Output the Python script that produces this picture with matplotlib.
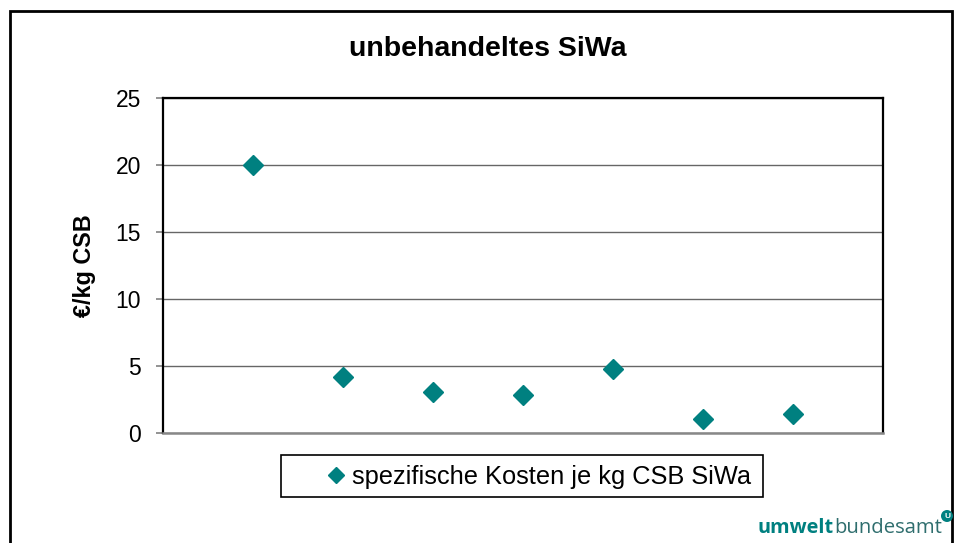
import matplotlib.pyplot as plt
from matplotlib.patches import Rectangle

# --- Daten ---
positionen = [1, 2, 3, 4, 5, 6, 7]
kosten = [20.0, 4.2, 3.05, 2.85, 4.8, 1.05, 1.45]
y_ticks = [0, 5, 10, 15, 20, 25]

titel = 'unbehandeltes SiWa'
y_label = '€/kg CSB'
legende = 'spezifische Kosten je kg CSB SiWa'

TEAL = '#008080'

plt.rcParams['font.family'] = ['Liberation Sans', 'DejaVu Sans']

fig = plt.figure(figsize=(9.63, 5.43), dpi=100)
ax = fig.add_axes([163 / 963, 1 - 433 / 543, 720 / 963, 335 / 543])

ax.plot(positionen, kosten, linestyle='none', marker='D', markersize=10.5,
        color=TEAL, label=legende)

ax.set_xlim(0, 8)
ax.set_ylim(0, 25)
ax.set_yticks(y_ticks)
ax.set_xticks([])
ax.tick_params(axis='y', direction='out', length=5, width=1.2, color='#808080',
               labelsize=16.5, pad=11)
ax.yaxis.grid(True, color='#666666', linewidth=1)
ax.set_axisbelow(True)

for s in ['left', 'top', 'right']:
    ax.spines[s].set_color('black')
    ax.spines[s].set_linewidth(1.6)
ax.spines['bottom'].set_color('#888888')
ax.spines['bottom'].set_linewidth(1.8)

ax.set_ylabel(y_label, fontsize=16.8, fontweight='bold', labelpad=14)

fig.text(0.507, 1 - 49 / 543, titel, ha='center', va='center',
         fontsize=20.5, fontweight='bold')

# Legende (ohne eigenen Rahmen, Rahmen separat wie im Original)
leg = fig.legend(loc='center', bbox_to_anchor=(539 / 963, 1 - 477 / 543),
                 fontsize=18.3, frameon=False, handlelength=0.7,
                 handletextpad=0.25, borderpad=0.0, markerscale=0.75)
fig.patches.append(Rectangle((281 / 963, 1 - 497 / 543), 482 / 963, 42 / 543,
                             transform=fig.transFigure, fill=False,
                             edgecolor='black', linewidth=1.2))

# Rahmen um die Folie
fig.patches.append(Rectangle((10 / 963, -0.05), 942 / 963, 0.05 + 1 - 11 / 543,
                             transform=fig.transFigure, fill=False,
                             edgecolor='black', linewidth=2))

# Logo
fig.text(834 / 963, 1 - 528 / 543, 'umwelt', ha='right', va='center',
         fontsize=14.3, fontweight='bold', color=TEAL, family='Open Sans')
fig.text(834 / 963, 1 - 528 / 543, 'bundesamt', ha='left', va='center',
         fontsize=14.6, color='#2f6e6e', family='Open Sans')
fig.text(947 / 963, 1 - 516 / 543, 'U', ha='center', va='center', fontsize=6,
         fontweight='bold', color='white',
         bbox=dict(boxstyle='circle,pad=0.3', fc=TEAL, ec='none'))

fig.savefig('out.png', dpi=100)
